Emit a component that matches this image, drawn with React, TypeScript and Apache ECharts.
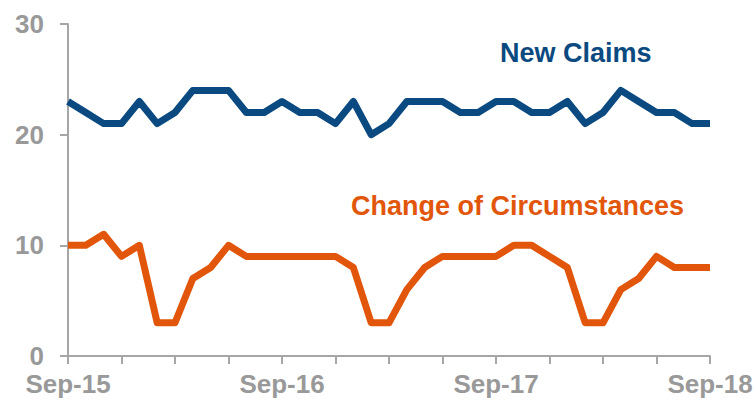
import React, { useEffect, useRef } from "react";
import * as echarts from "echarts";

const months = [
  "Sep-15","Oct-15","Nov-15","Dec-15","Jan-16","Feb-16","Mar-16","Apr-16","May-16","Jun-16","Jul-16","Aug-16",
  "Sep-16","Oct-16","Nov-16","Dec-16","Jan-17","Feb-17","Mar-17","Apr-17","May-17","Jun-17","Jul-17","Aug-17",
  "Sep-17","Oct-17","Nov-17","Dec-17","Jan-18","Feb-18","Mar-18","Apr-18","May-18","Jun-18","Jul-18","Aug-18",
  "Sep-18",
];

const newClaims = [
  23, 22, 21, 21, 23, 21, 22, 24, 24, 24, 22, 22,
  23, 22, 22, 21, 23, 20, 21, 23, 23, 23, 22, 22,
  23, 23, 22, 22, 23, 21, 22, 24, 23, 22, 22, 21,
  21,
];

const changeOfCircumstances = [
  10, 10, 11, 9, 10, 3, 3, 7, 8, 10, 9, 9,
  9, 9, 9, 9, 8, 3, 3, 6, 8, 9, 9, 9,
  9, 10, 10, 9, 8, 3, 3, 6, 7, 9, 8, 8,
  8,
];

const yTicks = [0, 10, 20, 30];

const BLUE = "#0b4a80";
const ORANGE = "#e2560b";
const GREY = "#999999";
const AXIS = "#a6a6a6";
const FONT = "'Liberation Sans', Arial, sans-serif";

export default function App() {
  const ref = useRef<HTMLDivElement>(null);
  useEffect(() => {
    if (!ref.current) return;
    const chart = echarts.init(ref.current, null, { renderer: "svg" });
    chart.setOption({
      animation: false,
      backgroundColor: "#ffffff",
      grid: { left: 68, right: 46, top: 24, bottom: 47 },
      xAxis: {
        type: "category",
        data: months,
        boundaryGap: false,
        axisLine: { lineStyle: { color: AXIS, width: 2 } },
        axisTick: {
          show: true,
          length: 8,
          interval: (i: number) => i % 3 === 0,
          lineStyle: { color: AXIS, width: 2 },
        },
        axisLabel: {
          interval: (i: number) => i % 12 === 0,
          color: GREY,
          fontFamily: FONT,
          fontWeight: "bold",
          fontSize: 26,
          margin: 15,
        },
        splitLine: { show: false },
      },
      yAxis: {
        type: "value",
        min: yTicks[0],
        max: yTicks[yTicks.length - 1],
        interval: 10,
        axisLine: { show: true, lineStyle: { color: AXIS, width: 2 } },
        axisTick: { show: true, length: 8, lineStyle: { color: AXIS, width: 2 } },
        axisLabel: {
          color: GREY,
          fontFamily: FONT,
          fontWeight: "bold",
          fontSize: 26,
          margin: 24,
        },
        splitLine: { show: false },
      },
      series: [
        {
          name: "New Claims",
          type: "line",
          data: newClaims,
          showSymbol: false,
          lineStyle: { color: BLUE, width: 7, join: "round" },
          itemStyle: { color: BLUE },
        },
        {
          name: "Change of Circumstances",
          type: "line",
          data: changeOfCircumstances,
          showSymbol: false,
          lineStyle: { color: ORANGE, width: 7, join: "round" },
          itemStyle: { color: ORANGE },
        },
      ],
      graphic: [
        {
          type: "text",
          left: 500,
          top: 39,
          style: {
            text: "New Claims",
            fill: BLUE,
            font: `bold 27px ${FONT}`,
          },
        },
        {
          type: "text",
          left: 351,
          top: 192,
          style: {
            text: "Change of Circumstances",
            fill: ORANGE,
            font: `bold 27px ${FONT}`,
          },
        },
      ],
    });
    return () => chart.dispose();
  }, []);
  return <div ref={ref} style={{ width: 756, height: 403, position: "absolute", left: 0, top: 0 }} />;
}
